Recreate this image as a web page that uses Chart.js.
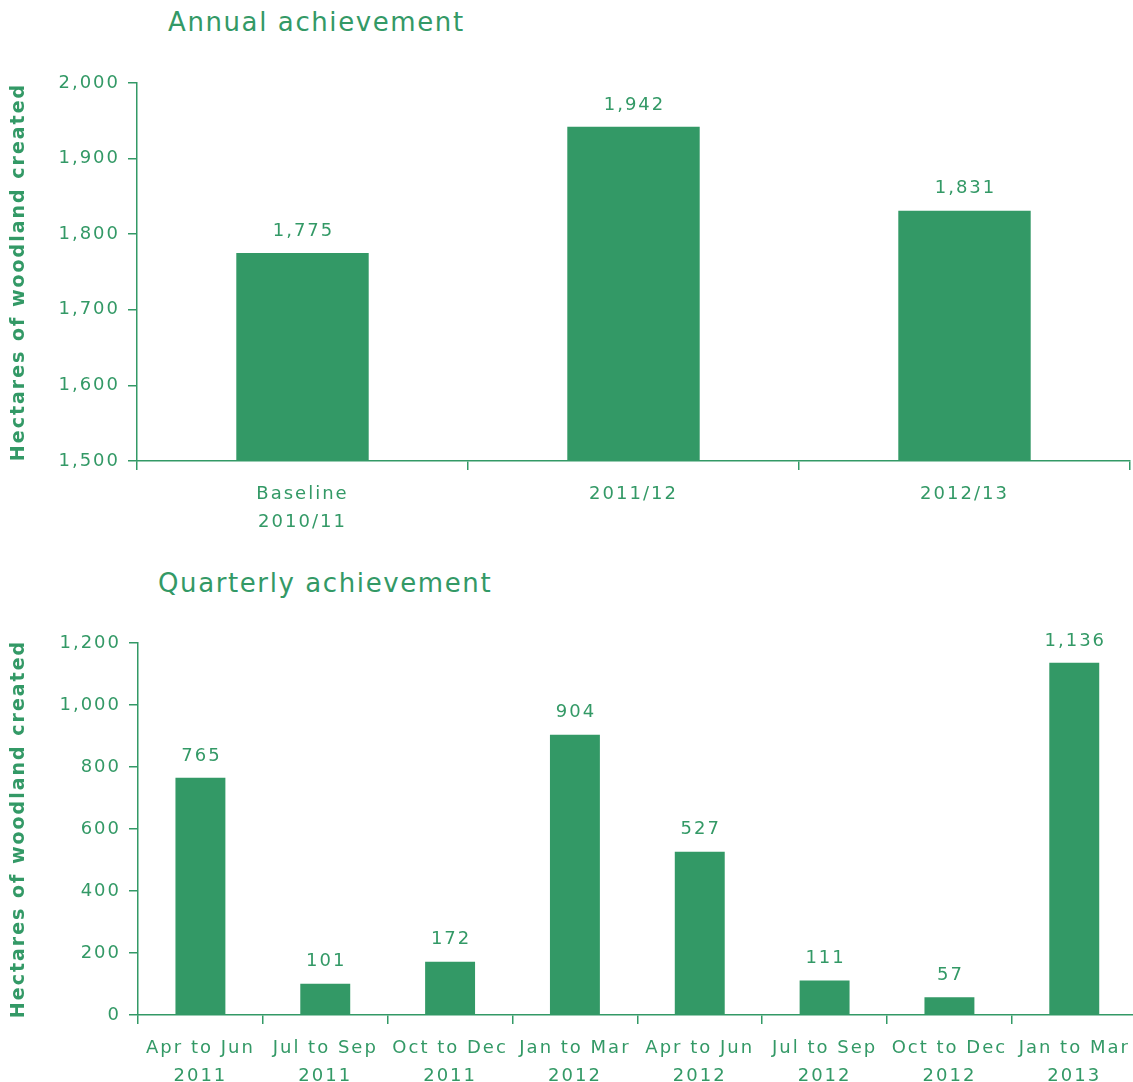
<!DOCTYPE html>
<html>
<head>
<meta charset="utf-8">
<title>Woodland created</title>
<script src="https://cdn.jsdelivr.net/npm/chart.js@4"></script>
<style>
  body { margin: 0; background: #fff; width: 1133px; height: 1082px; overflow: hidden; position: relative;
         font-family: "DejaVu Sans", sans-serif; color: #339966; }
  .chart-title { position: absolute; font-size: 26px; letter-spacing: 1.6px; line-height: 30px; margin: 0; font-weight: normal; }
  .wrap { position: absolute; left: 0; }
</style>
</head>
<body>
<h2 class="chart-title" style="left:168px;top:7px">Annual achievement</h2>
<div class="wrap" style="top:0"><canvas id="annual" width="1133" height="540"></canvas></div>
<h2 class="chart-title" style="left:158px;top:568px">Quarterly achievement</h2>
<div class="wrap" style="top:540px"><canvas id="quarterly" width="1140" height="542"></canvas></div>

<script>
/* data */
const annualLabels = [['Baseline', '2010/11'], '2011/12', '2012/13'];
const annualValues = [1775, 1942, 1831];
const annualAxis = [1500, 2000, 100];   // min, max, step

const quarterLabels = [
    ['Apr to Jun', '2011'], ['Jul to Sep', '2011'], ['Oct to Dec', '2011'], ['Jan to Mar', '2012'],
    ['Apr to Jun', '2012'], ['Jul to Sep', '2012'], ['Oct to Dec', '2012'], ['Jan to Mar', '2013']
];
const quarterValues = [765, 101, 172, 904, 527, 111, 57, 1136];
const quarterAxis = [0, 1200, 200];

const yTitle = 'Hectares of woodland created';
const green = '#339966';
const font = '"DejaVu Sans", sans-serif';

/* wide letter spacing, the original font is set loose */
const spacing = {
    id: 'spacing',
    beforeUpdate(chart) { chart.ctx.letterSpacing = '2px'; },
    beforeDraw(chart) { chart.ctx.letterSpacing = '2px'; }
};

/* value over each bar */
const barValues = {
    id: 'barValues',
    afterDatasetsDraw(chart) {
        const ctx = chart.ctx;
        const data = chart.data.datasets[0].data;
        ctx.save();
        ctx.font = '18px ' + font;
        ctx.fillStyle = green;
        ctx.textAlign = 'center';
        ctx.textBaseline = 'middle';
        chart.getDatasetMeta(0).data.forEach((bar, i) => {
            ctx.fillText(data[i].toLocaleString('en-US'), bar.x + 1, bar.y - 22);
        });
        ctx.restore();
    }
};

function makeChart(id, labels, values, axis, pad, xHeight) {
    return new Chart(document.getElementById(id), {
        type: 'bar',
        data: {
            labels: labels,
            datasets: [{
                data: values,
                backgroundColor: green,
                borderWidth: 0,
                barPercentage: 0.4,
                categoryPercentage: 1.0
            }]
        },
        options: {
            responsive: false,
            animation: false,
            events: [],
            layout: { padding: pad },
            plugins: { legend: { display: false }, tooltip: { enabled: false } },
            scales: {
                x: {
                    afterFit: s => { s.height = xHeight; },
                    grid: { offset: true, drawOnChartArea: false, color: green, tickLength: 9, lineWidth: 1.5 },
                    border: { color: green, width: 1.5 },
                    ticks: {
                        color: green, padding: 10, maxRotation: 0, autoSkip: false,
                        font: { family: font, size: 18, lineHeight: 1.55 }
                    }
                },
                y: {
                    min: axis[0], max: axis[1],
                    afterFit: s => { s.width = pad.yWidth; },
                    grid: { drawOnChartArea: false, color: green, tickLength: 9, lineWidth: 1.5 },
                    border: { color: green, width: 1.5 },
                    ticks: {
                        stepSize: axis[2], color: green, padding: 8,
                        font: { family: font, size: 18 },
                        callback: v => v.toLocaleString('en-US')
                    },
                    title: {
                        display: true, text: yTitle, color: green,
                        padding: { top: 8, bottom: 0 },
                        font: { family: font, size: 19, weight: 'bold' }
                    }
                }
            }
        },
        plugins: [spacing, barValues]
    });
}

makeChart('annual', annualLabels, annualValues, annualAxis,
    { top: 83, right: 3, left: 0, bottom: 0, yWidth: 137 }, 79);
makeChart('quarterly', quarterLabels, quarterValues, quarterAxis,
    { top: 103, right: 2, left: 0, bottom: 0, yWidth: 138 }, 67);
</script>
</body>
</html>
